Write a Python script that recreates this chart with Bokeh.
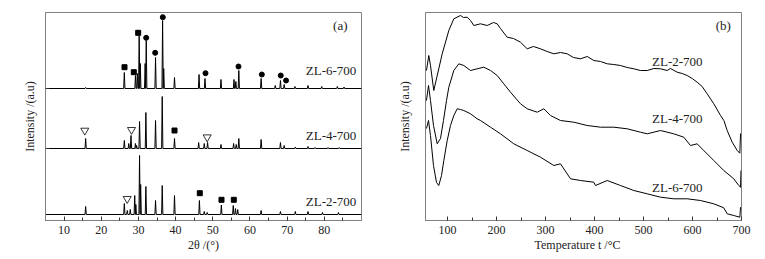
from bokeh.plotting import figure
from bokeh.models import Range1d, FixedTicker, Label
from bokeh.layouts import row
from bokeh.embed import file_html
from bokeh.resources import INLINE

FONT = "Times"

# ---------------- (a) XRD data ----------------
two_theta_ticks = [10, 20, 30, 40, 50, 60, 70, 80]
two_theta_minor = [5, 15, 25, 35, 45, 55, 65, 75, 85]

zl6_base = 132
zl6_pos = [15.8, 26.2, 29.2, 29.7, 30.2, 30.5, 31.8, 32.1, 34.6, 36.5, 36.8, 39.7,
           46.3, 47.9, 52.2, 55.7, 56.2, 57.0, 63.0, 66.8, 68.2, 69.2, 72.1, 75.6,
           79.3, 83.5, 85.3]
zl6_h = [1, 16, 13, 15, 53, 25, 25, 48, 31, 68, 20, 11,
         14, 10, 9, 9, 7, 18, 10, 3, 8, 4, 2, 3,
         2, 2, 1.5]

zl4_base = 72
zl4_pos = [15.8, 26.2, 27.4, 28.0, 29.2, 29.5, 30.3, 32.0, 34.6, 36.4, 39.7,
           46.2, 47.7, 48.6, 52.2, 55.6, 56.3, 57.0, 63.0, 68.2, 69.2, 72.2,
           75.6, 77.5, 81.0, 84.0]
zl4_h = [10, 8, 5, 13, 5, 3, 27, 36, 28, 52, 10,
         6, 5, 6, 4, 5, 4, 10, 9, 6, 3, 1.5,
         2, 1, 1, 1]

zl2_base = 6
zl2_pos = [15.8, 26.2, 27.0, 27.8, 29.0, 29.3, 30.3, 30.6, 32.0, 34.6, 36.4, 39.7,
           46.4, 47.7, 48.5, 52.3, 55.5, 56.1, 56.7, 63.0, 68.2, 72.2, 75.6,
           79.5, 83.8]
zl2_h = [8, 11, 4, 5, 19, 10, 59, 30, 28, 14, 29, 19,
         14, 3, 2, 9.5, 9, 6, 5, 4, 3, 3, 3,
         2, 2]

# phase markers (2theta, intensity)
sq_x = [26.25, 28.75, 29.93, 39.7, 46.5, 52.34, 55.65]
sq_y = [153.3, 148.3, 187.7, 90.0, 27.3, 20.7, 20.7]
dot_x = [32.08, 34.5, 36.55, 48.04, 56.91, 63.19, 68.28, 69.71]
dot_y = [182.7, 167.7, 203.3, 147.3, 154.0, 146.0, 145.0, 140.0]
tri_x = [15.57, 28.13, 48.49, 26.97]
tri_y = [90.0, 90.7, 83.3, 21.7]

# ---------------- (b) TPD data ----------------
temp_ticks = [100, 200, 300, 400, 500, 600, 700]
temp_minor = [150, 250, 350, 450, 550, 650]

t2 = [57, 61.7, 65.2, 71.9, 89.1, 102.6, 112.8, 126.4, 132.6, 140.1, 146.8, 153.6,
      167.3, 180.9, 193.8, 201.3, 208, 221.7, 234.6, 248.9, 262.6, 275.4, 289.7,
      303.4, 316.9, 330.5, 344.2, 357, 371.4, 385, 398.6, 412.2, 425.9, 439.4,
      453, 466.7, 480.2, 493.8, 507.5, 521, 534.7, 548.3, 555, 568.7, 578.9,
      589.1, 599.3, 609.5, 619.7, 629.9, 643.5, 657.2, 664, 670.8, 681, 691.2,
      696.6, 698]
i2 = [150, 165, 155, 130, 166.7, 190, 201.7, 205, 203, 203.3, 200, 195,
      196.7, 195, 198, 196.7, 192, 183.3, 182, 178.3, 171.7, 174, 171.7,
      169, 166.7, 168, 166.7, 163, 161.7, 164, 160, 159, 156.7, 156,
      155, 153, 151.7, 150, 150, 152, 151.7, 150, 152, 148.3, 147,
      145, 142, 138.3, 134, 126.7, 116.7, 105, 100, 90, 78.3, 70,
      67.3, 87]

t4 = [57, 61.1, 65.2, 71.3, 78.9, 85.6, 91.7, 97.9, 102.6, 112.8, 123, 133.2,
      146.8, 160.5, 174, 187.7, 201.3, 214.8, 228.5, 248.9, 262.6, 283, 296.5,
      310.1, 330.5, 357.7, 385, 412.2, 439.4, 466.7, 493.8, 507.5, 534.7, 561.8,
      582.2, 595.9, 609.5, 623, 643.4, 663.8, 684.2, 694.5, 698, 699]
i4 = [120, 135, 120, 95, 76.7, 82, 100, 120, 133.3, 150, 156.7, 155,
      150, 151.7, 153.3, 150, 145, 136.7, 128.3, 116.7, 111.7, 108.3, 111.7,
      105, 100, 98.3, 95, 93.3, 93.3, 91.7, 88.3, 86.7, 90, 86.7,
      83.3, 75, 76.7, 70, 60, 50, 41.7, 35, 33.3, 50]

t6 = [57, 61.1, 65.2, 71.3, 77.5, 82.1, 87.7, 92.4, 99.3, 106, 112.8, 119.7,
      126.4, 133.2, 146.8, 160.5, 167.3, 187.7, 208.1, 235.2, 262.6, 289.7,
      316.9, 330.5, 351, 371.4, 398.5, 402, 425.9, 453, 480.2, 507.5, 534.7,
      561.8, 589.1, 616.3, 643.4, 663.8, 670.8, 684.2, 696.6, 698]
i6 = [92, 100, 85, 55, 38, 35, 45, 60, 80, 95, 105, 111.7,
      111, 110, 106.7, 101.7, 100, 93.3, 86.7, 76.7, 70, 63.3,
      55, 56.7, 41.7, 40, 38.3, 35, 40, 35, 30, 26.7, 23.3,
      21.7, 21.7, 20, 16.7, 12.7, 6.7, 5, 3.3, 13.3]


def xrd_line(base, pos, h, hw=0.17):
    xs, ys = [5.0], [base]
    for p_, hh in sorted(zip(pos, h)):
        xs += [p_ - hw, p_, p_ + hw]
        ys += [base, base + hh, base]
    xs.append(90.0)
    ys.append(base)
    return xs, ys


def style(p):
    p.outline_line_color = "#808080"
    p.outline_line_width = 1
    p.xgrid.visible = False
    p.ygrid.visible = False
    for ax in (p.xaxis[0], p.yaxis[0]):
        ax.axis_line_color = "#808080"
        ax.major_tick_line_color = "#333333"
        ax.minor_tick_line_color = "#333333"
        ax.major_tick_in = 4
        ax.major_tick_out = 0
        ax.minor_tick_in = 3
        ax.minor_tick_out = 0
        ax.major_label_text_font = FONT
        ax.major_label_text_font_size = "12px"
        ax.major_label_text_color = "#222222"
        ax.axis_label_text_font = FONT
        ax.axis_label_text_font_size = "12px"
        ax.axis_label_text_font_style = "normal"
        ax.axis_label_text_color = "#222222"
    p.xaxis[0].major_label_standoff = 5
    p.xaxis[0].axis_label_standoff = 1


def add_label(p, x, y, text, size="13px"):
    p.add_layout(Label(x=x, y=y, text=text, text_align="center",
                       text_baseline="middle", text_font=FONT,
                       text_font_size=size, text_color="#222222"))


# ---------- left panel ----------
pa = figure(width=380, height=258, output_backend="svg", toolbar_location=None,
            x_range=Range1d(5, 90), y_range=Range1d(0, 208),
            min_border_left=45, min_border_right=19, min_border_top=12,
            min_border_bottom=38, x_axis_label="2θ /(°)",
            y_axis_label="Intensity /(a.u)")
style(pa)
pa.xaxis[0].ticker = FixedTicker(ticks=two_theta_ticks, minor_ticks=two_theta_minor)
pa.yaxis[0].ticker = FixedTicker(ticks=[zl4_base, zl6_base])
pa.yaxis[0].major_label_overrides = {zl4_base: "", zl6_base: ""}
pa.yaxis[0].major_label_standoff = 0
pa.yaxis[0].axis_label_standoff = 9

for base, pos, h in ((zl6_base, zl6_pos, zl6_h), (zl4_base, zl4_pos, zl4_h),
                     (zl2_base, zl2_pos, zl2_h)):
    xs, ys = xrd_line(base, pos, h)
    pa.line(xs, ys, line_color="black", line_width=1)

pa.scatter(sq_x, sq_y, marker="square", size=5, fill_color="black", line_color="black")
pa.scatter(dot_x, dot_y, marker="circle", size=5, fill_color="black", line_color="black")
pa.scatter(tri_x, tri_y, marker="inverted_triangle", size=8, fill_color="white",
           line_color="black", line_width=0.8)

add_label(pa, 81.8, 150, "ZL-6-700")
add_label(pa, 81.8, 85, "ZL-4-700")
add_label(pa, 81.8, 19, "ZL-2-700")
add_label(pa, 84.3, 195, "(a)")

# ---------- right panel ----------
pb = figure(width=384, height=258, output_backend="svg", toolbar_location=None,
            x_range=Range1d(55, 700), y_range=Range1d(0, 208),
            min_border_left=45, min_border_right=23, min_border_top=12,
            min_border_bottom=38, x_axis_label="Temperature     t /°C",
            y_axis_label="Intensity /(a.u)")
style(pb)
pb.xaxis[0].ticker = FixedTicker(ticks=temp_ticks, minor_ticks=temp_minor)
pb.yaxis[0].ticker = FixedTicker(ticks=[])
pb.yaxis[0].major_label_standoff = 0
pb.yaxis[0].axis_label_standoff = 14

pb.line(t2, i2, line_color="black", line_width=1)
pb.line(t4, i4, line_color="black", line_width=1)
pb.line(t6, i6, line_color="black", line_width=1)

add_label(pb, 569, 159, "ZL-2-700")
add_label(pb, 569, 102, "ZL-4-700")
add_label(pb, 569, 33, "ZL-6-700")
add_label(pb, 663, 195, "(b)")

layout = row(pa, pb)
open("out.html", "w").write(file_html(layout, INLINE))
